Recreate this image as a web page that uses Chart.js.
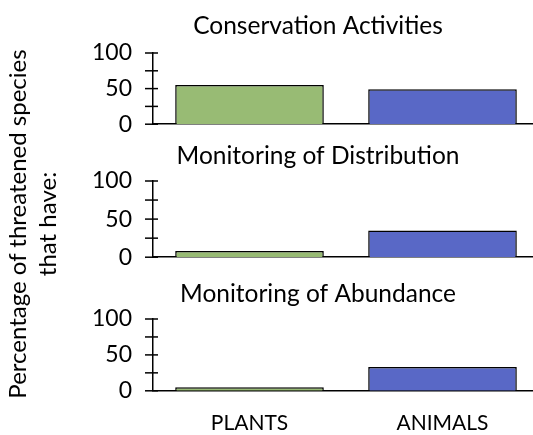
<!DOCTYPE html>
<html>
<head>
<meta charset="utf-8">
<script src="https://cdn.jsdelivr.net/npm/chart.js@4"></script>
<style>
  html, body { margin: 0; padding: 0; background: #fff; }
  #wrap { position: relative; width: 533px; height: 435px; overflow: hidden; }
  canvas { position: absolute; left: 0; }
  #ylabel {
    position: absolute; left: 32px; top: 224px; width: 380px;
    transform: translate(-50%, -50%) rotate(-90deg);
    font-family: Lato, sans-serif; font-size: 24px; line-height: 30px;
    text-align: center; color: #000; white-space: nowrap;
  }
</style>
</head>
<body>
<div id="wrap">
  <canvas id="c1"></canvas>
  <canvas id="c2"></canvas>
  <canvas id="c3"></canvas>
  <div id="ylabel">Percentage of threatened species<br>that have:</div>
</div>
<script>
const categories = ['PLANTS', 'ANIMALS']
const panelTitles = ['Conservation Activities', 'Monitoring of Distribution', 'Monitoring of Abundance']
const conservationValues = [55, 49]
const distributionValues = [8, 35]
const abundanceValues = [5, 33]
const tickValues = [0, 25, 50, 75, 100]
const tickLabels = ['0', '50', '100']

const barColors = ['#98bb74', '#5968c6']
const font = 'Lato, sans-serif'

// tick marks crossing the y axis, plus the panel title
const panelDecor = {
  id: 'panelDecor',
  afterDraw(chart, args, opts) {
    const y = chart.scales.y
    const ctx = chart.ctx
    const x = chart.chartArea.left
    ctx.save()
    ctx.strokeStyle = '#000'
    ctx.lineWidth = 1.5
    tickValues.forEach((v) => {
      const py = y.getPixelForValue(v)
      ctx.beginPath()
      ctx.moveTo(x - 8, py)
      ctx.lineTo(x + 5, py)
      ctx.stroke()
    })
    ctx.fillStyle = '#000'
    ctx.font = '24.5px ' + font
    ctx.textAlign = 'center'
    ctx.textBaseline = 'middle'
    ctx.fillText(opts.text, 318, opts.y)
    ctx.restore()
  }
}

function makePanel(id, top, height, title, values, showLabels, padTop, padBottom) {
  const canvas = document.getElementById(id)
  canvas.style.top = top + 'px'
  canvas.width = 539
  canvas.height = height
  canvas.style.width = '539px'
  canvas.style.height = height + 'px'
  new Chart(canvas, {
    type: 'bar',
    data: {
      labels: categories,
      datasets: [{
        data: values,
        backgroundColor: barColors,
        borderColor: '#000',
        borderWidth: 1.5,
        borderSkipped: 'bottom',
        barPercentage: 0.77,
        categoryPercentage: 1
      }]
    },
    options: {
      responsive: false,
      animation: false,
      layout: { padding: { left: 0, right: 0, top: padTop, bottom: padBottom } },
      plugins: {
        legend: { display: false },
        tooltip: { enabled: false },
        title: { display: false },
        panelDecor: { text: title, y: 26 }
      },
      scales: {
        x: {
          grid: { display: false, drawTicks: false },
          border: { display: true, color: '#000', width: 1.5 },
          ticks: {
            display: showLabels,
            color: '#000',
            padding: 20,
            font: { family: font, size: 21 }
          }
        },
        y: {
          min: 0,
          max: 100,
          afterFit(scale) { scale.width = 153 },
          grid: { display: false, drawTicks: false },
          border: { display: true, color: '#000', width: 1.5 },
          ticks: {
            stepSize: 25,
            autoSkip: false,
            padding: 21,
            color: '#000',
            font: { family: font, size: 23 },
            callback: (v) => tickLabels.includes(String(v)) ? String(v) : ''
          }
        }
      }
    },
    plugins: [panelDecor]
  })
}

makePanel('c1', 0, 159, panelTitles[0], conservationValues, false, 53, 14)
makePanel('c2', 130, 162, panelTitles[1], distributionValues, false, 51, 14)
makePanel('c3', 268, 189, panelTitles[2], abundanceValues, true, 51, 1)
</script>
</body>
</html>
